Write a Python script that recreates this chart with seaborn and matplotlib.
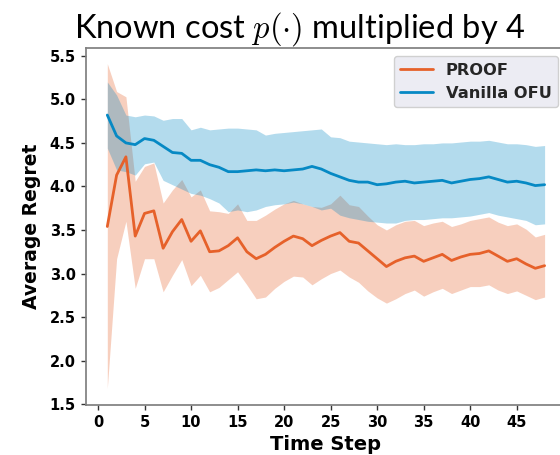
import numpy as np
import pandas as pd
import matplotlib
matplotlib.use("Agg")
import matplotlib.pyplot as plt
import seaborn as sns

time_steps = list(range(1, 49))

proof_mean = [3.54, 4.13, 4.34, 3.43, 3.69, 3.72, 3.29, 3.48, 3.62, 3.37,
              3.49, 3.25, 3.26, 3.32, 3.41, 3.25, 3.17, 3.22, 3.30, 3.37,
              3.43, 3.40, 3.32, 3.38, 3.43, 3.47, 3.37, 3.35, 3.26, 3.17,
              3.08, 3.14, 3.18, 3.20, 3.14, 3.18, 3.22, 3.15, 3.19, 3.22,
              3.23, 3.26, 3.20, 3.14, 3.17, 3.11, 3.06, 3.09]
proof_upper = [5.41, 5.09, 5.03, 4.06, 4.23, 4.27, 3.81, 3.96, 4.08, 3.88,
               3.96, 3.72, 3.71, 3.69, 3.80, 3.61, 3.61, 3.67, 3.74, 3.80,
               3.84, 3.80, 3.77, 3.76, 3.80, 3.90, 3.79, 3.77, 3.66, 3.56,
               3.50, 3.56, 3.60, 3.61, 3.55, 3.58, 3.60, 3.54, 3.57, 3.61,
               3.63, 3.65, 3.59, 3.55, 3.57, 3.51, 3.42, 3.45]
proof_lower = [1.68, 3.17, 3.60, 2.83, 3.17, 3.17, 2.79, 2.98, 3.16, 2.86,
               2.98, 2.79, 2.84, 2.93, 3.02, 2.87, 2.71, 2.73, 2.83, 2.91,
               2.97, 2.96, 2.87, 2.94, 3.00, 3.04, 2.96, 2.90, 2.80, 2.72,
               2.66, 2.71, 2.77, 2.81, 2.74, 2.79, 2.83, 2.77, 2.81, 2.85,
               2.85, 2.87, 2.81, 2.77, 2.80, 2.75, 2.70, 2.73]

vanilla_mean = [4.82, 4.58, 4.50, 4.48, 4.55, 4.53, 4.46, 4.39, 4.38, 4.30,
                4.30, 4.25, 4.22, 4.17, 4.17, 4.18, 4.19, 4.18, 4.19, 4.18,
                4.19, 4.20, 4.23, 4.20, 4.15, 4.11, 4.07, 4.05, 4.05, 4.02,
                4.03, 4.05, 4.06, 4.04, 4.05, 4.06, 4.07, 4.04, 4.06, 4.08,
                4.09, 4.11, 4.08, 4.05, 4.06, 4.04, 4.01, 4.02]
vanilla_upper = [5.20, 5.05, 4.82, 4.80, 4.82, 4.81, 4.76, 4.78, 4.78, 4.65,
                 4.68, 4.65, 4.66, 4.67, 4.67, 4.66, 4.65, 4.59, 4.61, 4.62,
                 4.63, 4.64, 4.65, 4.66, 4.57, 4.56, 4.52, 4.51, 4.50, 4.49,
                 4.48, 4.49, 4.48, 4.48, 4.49, 4.49, 4.50, 4.50, 4.51, 4.52,
                 4.52, 4.53, 4.51, 4.49, 4.49, 4.48, 4.46, 4.47]
vanilla_lower = [4.44, 4.19, 4.17, 4.13, 4.26, 4.28, 4.07, 4.02, 3.97, 3.92,
                 3.90, 3.86, 3.81, 3.71, 3.73, 3.71, 3.73, 3.77, 3.79, 3.80,
                 3.82, 3.80, 3.77, 3.73, 3.75, 3.67, 3.64, 3.62, 3.60, 3.59,
                 3.58, 3.58, 3.61, 3.62, 3.62, 3.63, 3.64, 3.64, 3.65, 3.66,
                 3.68, 3.70, 3.67, 3.65, 3.63, 3.61, 3.56, 3.57]

series_names = ["PROOF", "Vanilla OFU"]
title_text = r"Known cost $p(\cdot)$ multiplied by 4"
x_label = "Time Step"
y_label = "Average Regret"

sns.set_style("ticks")
plt.rcParams["font.family"] = ["DejaVu Sans"]
plt.rcParams["mathtext.fontset"] = "cm"

orange = "#E6612A"
blue = "#0689C4"

fig = plt.figure(figsize=(5.6, 4.55), dpi=100)
ax = fig.add_axes([86 / 560, 50 / 455, 480 / 560, 357 / 455])

df = pd.DataFrame({
    "t": time_steps * 2,
    "val": proof_mean + vanilla_mean,
    "method": [series_names[0]] * len(time_steps) + [series_names[1]] * len(time_steps),
})

ax.fill_between(time_steps, proof_lower, proof_upper, color=orange, alpha=0.3, linewidth=0, zorder=1)
ax.fill_between(time_steps, vanilla_lower, vanilla_upper, color=blue, alpha=0.3, linewidth=0, zorder=1)

sns.lineplot(data=df, x="t", y="val", hue="method", palette=[orange, blue],
             ax=ax, linewidth=2.0, zorder=3)

ax.set_xlim(-1.29, 50.3)
ax.set_ylim(1.49, 5.59)
ax.set_xticks([0, 5, 10, 15, 20, 25, 30, 35, 40, 45])
ax.set_yticks([1.5, 2.0, 2.5, 3.0, 3.5, 4.0, 4.5, 5.0, 5.5])
ax.set_yticklabels(["1.5", "2.0", "2.5", "3.0", "3.5", "4.0", "4.5", "5.0", "5.5"])

for s in ax.spines.values():
    s.set_color("#808080")
    s.set_linewidth(1.25)

ax.tick_params(axis="both", length=3.5, width=1.0, color="#333333",
               labelsize=10.5, labelcolor="black", pad=4)
for lab in ax.get_xticklabels() + ax.get_yticklabels():
    lab.set_fontweight("bold")

ax.set_xlabel(x_label, fontsize=14, fontweight="bold", color="black", labelpad=3)
ax.set_ylabel(y_label, fontsize=13.5, fontweight="bold", color="black", labelpad=6)
ax.set_title(title_text, fontsize=23.5, family="Lato", color="black", pad=5,
             x=(300 - 86) / 480)

leg = ax.legend(loc="upper right", fontsize=11.7, frameon=True, fancybox=True,
                facecolor="#eaeaf2", edgecolor="#cccccc", framealpha=0.9,
                borderaxespad=0.5, handlelength=2.0)
for txt in leg.get_texts():
    txt.set_fontweight("bold")
    txt.set_color("#262626")

fig.savefig("out.png", dpi=100)
